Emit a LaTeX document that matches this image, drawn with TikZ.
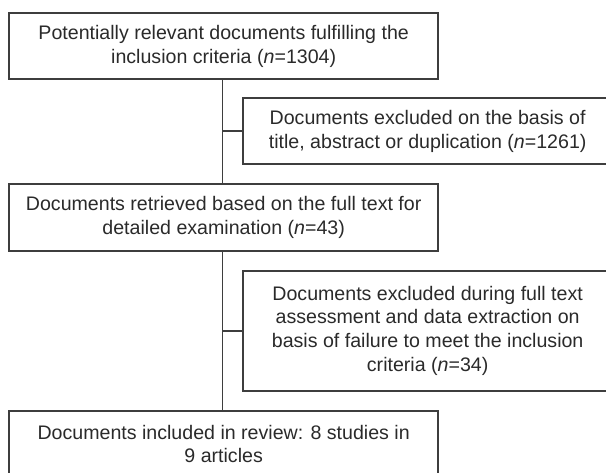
\documentclass[tikz,border=0pt]{standalone}
\usepackage{fontspec}
\setmainfont{Liberation Sans}
\definecolor{linegray}{HTML}{3E3E3E}
\definecolor{textgray}{HTML}{2A2A2A}
\begin{document}
\begin{tikzpicture}[x=1pt,y=1pt,yscale=-1,
    box/.style={draw=linegray,line width=1.8pt,text=textgray,align=center,inner sep=0pt,font=\fontsize{19.6}{23.6}\selectfont},
    link/.style={draw=linegray,line width=1.8pt}]
    %set diagram frame: width 606, height 473
    \clip (0,0) rectangle (606,473);
    
    %Shape: Rectangle [id:b1] 
    \node[box,minimum width=429.3,minimum height=66] (b1) at (223.65,46.3) {Potentially relevant documents fulfilling the\\inclusion criteria (\textit{n}=1304)};
    %Shape: Rectangle [id:b2] 
    \node[box,minimum width=368.7,minimum height=66] (b2) at (427.65,131.3) {Documents excluded on the basis of\\title, abstract or duplication (\textit{n}=1261)};
    %Shape: Rectangle [id:b3] 
    \node[box,minimum width=429.3,minimum height=66.7] (b3) at (223.65,217.35) {Documents retrieved based on the full text for\\detailed examination (\textit{n}=43)};
    %Shape: Rectangle [id:b4] 
    \node[box,minimum width=368.7,minimum height=120] (b4) at (427.65,330.7) {Documents excluded during full text\\assessment and data extraction on\\basis of failure to meet the inclusion\\criteria (\textit{n}=34)};
    %Shape: Rectangle [id:b5] 
    \node[box,minimum width=429.3,minimum height=66] (b5) at (223.65,444) {Documents included in review: 8 studies in\\9 articles};
    
    %Straight Lines
    \draw[link] ([xshift=-1.2]b1.south) -- ([xshift=-1.2]b3.north);
    \draw[link] ([xshift=-1.2]b3.south) -- ([xshift=-1.2]b5.north);
    \draw[link] (b2.west) -- ([xshift=-1.2]b2.west -| b1.south);
    \draw[link] (b4.west) -- ([xshift=-1.2]b4.west -| b3.south);
    
\end{tikzpicture}
\end{document}
